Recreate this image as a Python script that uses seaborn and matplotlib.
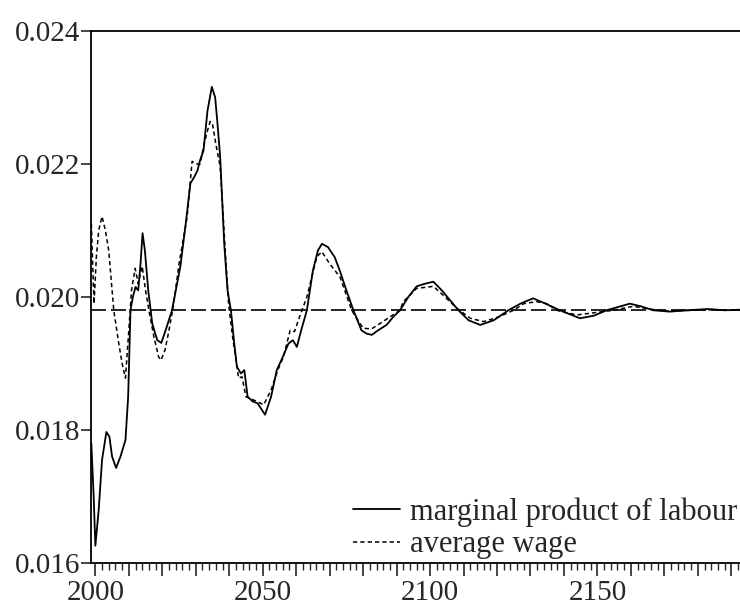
import numpy as np
import pandas as pd
import matplotlib
matplotlib.use("Agg")
import matplotlib.pyplot as plt
import seaborn as sns
from matplotlib.ticker import MultipleLocator, FuncFormatter

# ---- data ----
mpl_years = [1998.8, 1999.5, 2000.0, 2001.0, 2002.0, 2003.3, 2004.2, 2005.0, 2006.2, 2007.5,
             2009.0, 2009.8, 2010.5, 2011.2, 2012.0, 2012.8, 2013.5, 2014.1, 2014.8, 2015.8,
             2017.0, 2018.5, 2019.7, 2021.0, 2022.9, 2025.4, 2027.0, 2028.4, 2029.5, 2030.5,
             2031.3, 2032.3, 2033.5, 2034.8, 2035.8, 2036.5, 2037.3, 2038.5, 2039.5, 2040.5,
             2041.5, 2042.3, 2043.5, 2044.5, 2045.5, 2047.0, 2048.5, 2050.7, 2052.5, 2054.2,
             2056.0, 2057.7, 2059.0, 2060.2, 2061.5, 2063.2, 2065.0, 2066.5, 2067.7, 2069.5,
             2071.5, 2073.0, 2075.0, 2077.1, 2079.5, 2081.0, 2082.6, 2084.5, 2087.0, 2089.0,
             2091.0, 2093.5, 2096.0, 2098.5, 2101.0, 2103.5, 2106.0, 2108.5, 2111.5, 2115.0,
             2119.0, 2123.4, 2127.0, 2130.8, 2134.5, 2138.8, 2144.8, 2149.0, 2152.7, 2159.7,
             2163.0, 2166.7, 2171.6, 2177.0, 2183.0, 2188.0, 2193.0]
mpl_values = [0.0178, 0.0170, 0.01626, 0.0168, 0.01755, 0.01797, 0.01790, 0.0176, 0.01743, 0.0176,
              0.01785, 0.0185, 0.0198, 0.0200, 0.02015, 0.0201, 0.0205, 0.02096, 0.0207, 0.0201,
              0.0196, 0.01935, 0.01931, 0.0195, 0.0198, 0.02046, 0.0211, 0.02171, 0.0218, 0.0219,
              0.02206, 0.0222, 0.0228, 0.02316, 0.0230, 0.0226, 0.0221, 0.0208, 0.0201, 0.0198,
              0.0193, 0.01895, 0.01885, 0.0189, 0.0185, 0.01843, 0.0184, 0.01823, 0.0185, 0.0189,
              0.0191, 0.0193, 0.01935, 0.01925, 0.0195, 0.0198, 0.0204, 0.0207, 0.0208, 0.02075,
              0.0206, 0.0204, 0.0201, 0.0198, 0.0195, 0.01945, 0.01943, 0.0195, 0.01958, 0.0197,
              0.0198, 0.0200, 0.02016, 0.0202, 0.02023, 0.0201, 0.01995, 0.0198, 0.01965, 0.01958,
              0.01965, 0.0198, 0.0199, 0.01998, 0.0199, 0.0198, 0.01968, 0.01972, 0.0198, 0.0199,
              0.01986, 0.0198, 0.01978, 0.0198, 0.01982, 0.0198, 0.01981]

wage_years = [1998.8, 1999.2, 1999.6, 2000.3, 2001.0, 2002.0, 2003.0, 2004.0, 2005.5, 2007.0,
              2008.0, 2009.0, 2010.0, 2010.8, 2011.9, 2012.8, 2014.0, 2015.0, 2016.0, 2017.5,
              2018.9, 2019.6, 2020.8, 2022.0, 2023.4, 2025.0, 2027.4, 2028.9, 2030.0, 2031.3,
              2032.5, 2033.5, 2034.3, 2035.0, 2036.0, 2037.3, 2038.8, 2039.8, 2041.0, 2042.8,
              2043.8, 2045.0, 2047.3, 2050.3, 2052.5, 2054.5, 2056.2, 2058.2, 2059.5, 2061.0,
              2063.2, 2066.2, 2067.7, 2070.0, 2073.1, 2076.6, 2080.0, 2082.5, 2085.0, 2088.0,
              2091.0, 2092.0, 2096.0, 2101.0, 2104.5, 2108.0, 2112.0, 2116.0, 2120.5, 2124.9,
              2128.0, 2131.8, 2135.0, 2137.8, 2143.8, 2148.5, 2154.7, 2160.7, 2165.5, 2170.6,
              2178.0, 2185.0, 2193.0]
wage_values = [0.0211, 0.0205, 0.0199, 0.0206, 0.0210, 0.02121, 0.0210, 0.0207, 0.0198, 0.0193,
               0.0190, 0.01878, 0.0195, 0.0201, 0.02043, 0.0202, 0.02046, 0.0201, 0.0198, 0.0194,
               0.0191, 0.01905, 0.0192, 0.0195, 0.0199, 0.0205, 0.0212, 0.02204, 0.0220, 0.0220,
               0.0223, 0.0225, 0.02264, 0.0226, 0.0223, 0.02196, 0.0207, 0.0199, 0.0194, 0.01878,
               0.0188, 0.0185, 0.01845, 0.01838, 0.0186, 0.0189, 0.0191, 0.0195, 0.01948, 0.0197,
               0.0200, 0.02061, 0.02068, 0.0205, 0.0203, 0.0198, 0.01953, 0.01952, 0.0196, 0.0197,
               0.0198, 0.01993, 0.02013, 0.02016, 0.0200, 0.01983, 0.01968, 0.01963, 0.0197, 0.0198,
               0.0199, 0.01993, 0.0199, 0.0198, 0.01973, 0.01976, 0.0198, 0.01986, 0.01982, 0.01979,
               0.0198, 0.01981, 0.0198]

steady_state = 0.0198
y_ticks = [0.016, 0.018, 0.020, 0.022, 0.024]
x_tick_labels = [2000, 2050, 2100, 2150]
legend_labels = ["marginal product of labour", "average wage"]

# ---- style ----
sns.set_style("ticks")
plt.rcParams['font.family'] = ['Liberation Serif', 'DejaVu Serif']
plt.rcParams['font.size'] = 21

fig = plt.figure(figsize=(7.4, 6.08), dpi=100)
ax = fig.add_axes([91 / 740, 1 - 563 / 608, 1 - 91 / 740, (563 - 31) / 608])

df_mpl = pd.DataFrame({"year": mpl_years, "value": mpl_values})
df_wage = pd.DataFrame({"year": wage_years, "value": wage_values})

sns.lineplot(data=df_mpl, x="year", y="value", ax=ax, color="black", lw=1.3,
             label=legend_labels[0], sort=True)
sns.lineplot(data=df_wage, x="year", y="value", ax=ax, color="black", lw=1.1,
             label=legend_labels[1], sort=True, dashes=False)
ax.lines[1].set_linestyle((0, (2.8, 2.0)))
ax.axhline(steady_state, color="black", lw=1.2, linestyle=(0, (9, 3)))

ax.set_xlim(1998.7, 2192.6)
ax.set_ylim(0.016, 0.024)
ax.set_xlabel("")
ax.set_ylabel("")

ax.set_yticks(y_ticks)
ax.yaxis.set_major_formatter(FuncFormatter(lambda v, p: f"{v:.3f}"))
ax.xaxis.set_major_locator(MultipleLocator(10))
ax.xaxis.set_minor_locator(MultipleLocator(2))
ax.xaxis.set_major_formatter(FuncFormatter(
    lambda v, p: f"{int(round(v))}" if int(round(v)) in x_tick_labels else ""))

ax.tick_params(axis="y", direction="out", length=7, width=1.2, labelsize=21, pad=1)
ax.tick_params(axis="x", which="major", direction="out", length=9, width=1.2, labelsize=21, pad=3)
ax.tick_params(axis="x", which="minor", direction="out", length=5, width=1.0)

for s in ["left", "bottom", "top"]:
    ax.spines[s].set_visible(True)
    ax.spines[s].set_linewidth(1.3)
    ax.spines[s].set_color("black")
ax.spines["right"].set_visible(False)

leg = ax.legend(loc="lower right", bbox_to_anchor=(1.022, -0.025), frameon=False,
                fontsize=22, handlelength=1.55, handletextpad=0.33, labelspacing=0.12,
                borderaxespad=0.15)
leg.get_lines()[1].set_linestyle((0, (2.8, 2.0)))

fig.savefig("out.png", dpi=100)
